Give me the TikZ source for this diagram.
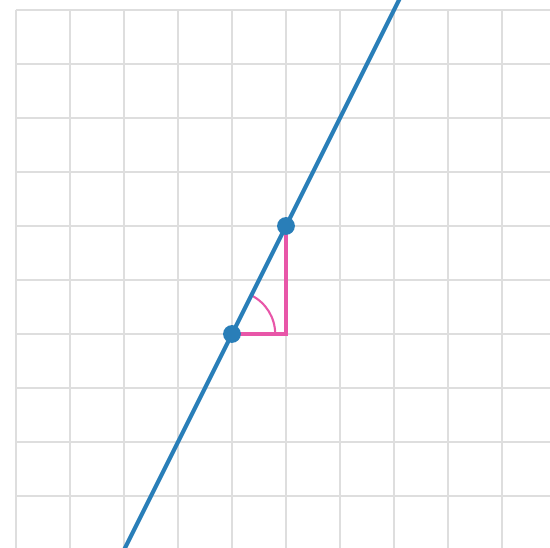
\documentclass[tikz,border=0pt]{standalone}
\usepackage{tikz}
\definecolor{slopeblue}{RGB}{41,126,184}
\definecolor{risepink}{RGB}{232,86,168}
\definecolor{gridgray}{RGB}{222,222,222}

\begin{document}
\begin{tikzpicture}
	\useasboundingbox (-0.296,0.037) rectangle (9.889,10.185);
	\clip (-0.296,0.037) rectangle (9.889,10.185);
	\foreach \x in {0,...,9} {\draw[gridgray, line width=1pt] (\x,0) -- (\x,10);}
	\foreach \y in {1,...,10} {\draw[gridgray, line width=1pt] (0,\y) -- (9.889,\y);}
	\coordinate (lo) at (2,0); \coordinate (hi) at (7.1,10.2);
	\coordinate (P) at (4,4); \coordinate (Q) at (5,6); \coordinate (C) at (5,4);
	\draw[risepink, line width=1.6pt] (P) -- (C) -- (Q);
	\draw[risepink, line width=1.1pt] ([shift={(0:0.8)}]P) arc[start angle=0, end angle=63.43, radius=0.8];
	\draw[slopeblue, line width=2.2pt] (lo) -- (hi);
	\fill[slopeblue] (P) circle (0.165); \fill[slopeblue] (Q) circle (0.165);
\end{tikzpicture}
\end{document}
